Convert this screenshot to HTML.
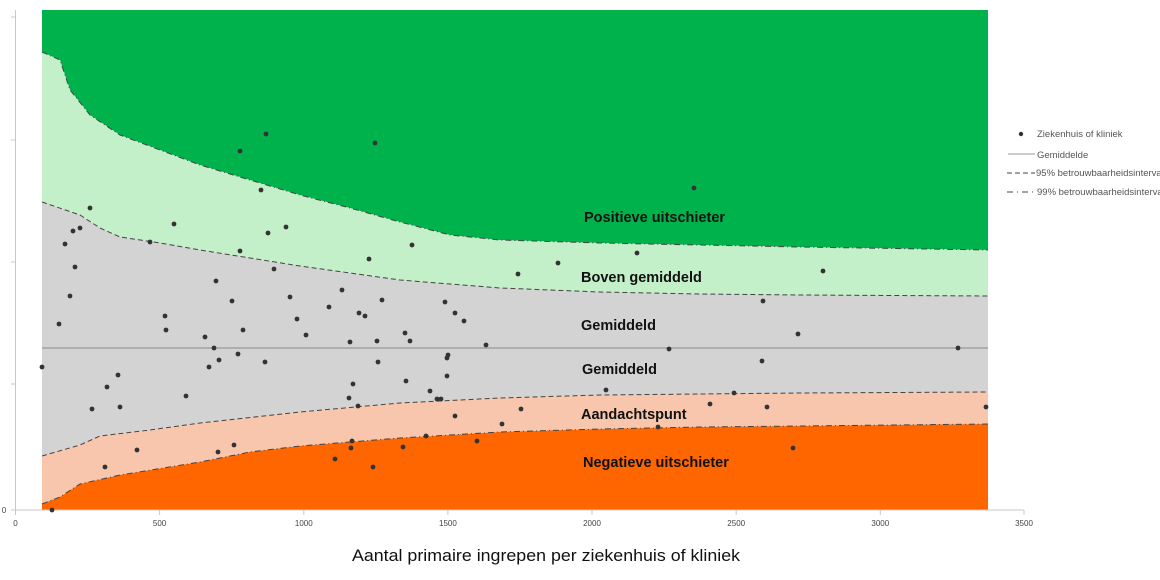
<!DOCTYPE html>
<html><head><meta charset="utf-8"><style>
html,body{margin:0;padding:0;background:#fff;}
svg{display:block;font-family:"Liberation Sans",sans-serif;}
</style></head><body>
<svg width="1160" height="580" viewBox="0 0 1160 580" xmlns="http://www.w3.org/2000/svg">
<!-- bands -->
<polygon fill="#00b24c" points="42,10 988,10 988,250 800,247 700,245 600,243 500,240 450,235 400,222 350,208 300,195 250,180 200,165 160,150 120,135 90,115 70,90 60,60 42,52"/>
<polygon fill="#c3f0c8" points="42,52 60,60 70,90 90,115 120,135 160,150 200,165 250,180 300,195 350,208 400,222 450,235 500,240 600,243 700,245 800,247 988,250 988,296 800,295 700,294 600,292 500,288 400,280 300,266 200,250 160,243 120,237 100,228 80,215 42,202"/>
<polygon fill="#d3d3d3" points="42,202 80,215 100,228 120,237 160,243 200,250 300,266 400,280 500,288 600,292 700,294 800,295 988,296 988,392 800,393 700,394 600,395 500,398 400,403 300,412 200,423 150,430 100,436 80,445 42,456"/>
<polygon fill="#f7c6ac" points="42,456 80,445 100,436 150,430 200,423 300,412 400,403 500,398 600,395 700,394 800,393 988,392 988,424 800,426 700,427 600,429 500,432 400,438 300,446 250,452 200,462 120,475 80,484 60,497 42,504"/>
<polygon fill="#ff6600" points="42,504 60,497 80,484 120,475 200,462 250,452 300,446 400,438 500,432 600,429 700,427 800,426 988,424 988,510 42,510"/>
<!-- boundary lines -->
<g fill="none" stroke="#444" stroke-width="1">
<polyline stroke-dasharray="6,3,1,3" points="42,52 60,60 70,90 90,115 120,135 160,150 200,165 250,180 300,195 350,208 400,222 450,235 500,240 600,243 700,245 800,247 988,250"/>
<polyline stroke-dasharray="5,3" points="42,202 80,215 100,228 120,237 160,243 200,250 300,266 400,280 500,288 600,292 700,294 800,295 988,296"/>
<polyline stroke-dasharray="5,3" points="42,456 80,445 100,436 150,430 200,423 300,412 400,403 500,398 600,395 700,394 800,393 988,392"/>
<polyline stroke-dasharray="6,3,1,3" points="42,504 60,497 80,484 120,475 200,462 250,452 300,446 400,438 500,432 600,429 700,427 800,426 988,424"/>
</g>
<line x1="42" y1="348" x2="988" y2="348" stroke="#999" stroke-width="1.2"/>
<!-- axes -->
<g stroke="#c8c8c8" stroke-width="1">
<line x1="15.5" y1="10" x2="15.5" y2="510"/>
<line x1="15.5" y1="510" x2="1024" y2="510"/>
<line x1="11" y1="17" x2="15.5" y2="17"/><line x1="11" y1="140" x2="15.5" y2="140"/><line x1="11" y1="262" x2="15.5" y2="262"/><line x1="11" y1="384" x2="15.5" y2="384"/><line x1="11" y1="510" x2="15.5" y2="510"/>
<line x1="15.5" y1="510" x2="15.5" y2="515"/><line x1="159.6" y1="510" x2="159.6" y2="515"/><line x1="303.8" y1="510" x2="303.8" y2="515"/><line x1="447.9" y1="510" x2="447.9" y2="515"/><line x1="592" y1="510" x2="592" y2="515"/><line x1="736.2" y1="510" x2="736.2" y2="515"/><line x1="880.3" y1="510" x2="880.3" y2="515"/><line x1="1024" y1="510" x2="1024" y2="515"/>
</g>
<g font-size="8" fill="#444" text-anchor="middle">
<text x="4" y="513">0</text>
<text x="15.5" y="526">0</text><text x="159.6" y="526">500</text><text x="303.8" y="526">1000</text><text x="447.9" y="526">1500</text><text x="592" y="526">2000</text><text x="736.2" y="526">2500</text><text x="880.3" y="526">3000</text><text x="1024" y="526">3500</text>
</g>
<!-- points -->
<g fill="#333">
<circle cx="42" cy="367" r="2.4"/><circle cx="59" cy="324" r="2.4"/><circle cx="65" cy="244" r="2.4"/><circle cx="70" cy="296" r="2.4"/><circle cx="73" cy="231" r="2.4"/><circle cx="75" cy="267" r="2.4"/><circle cx="80" cy="228" r="2.4"/><circle cx="90" cy="208" r="2.4"/><circle cx="92" cy="409" r="2.4"/><circle cx="105" cy="467" r="2.4"/><circle cx="107" cy="387" r="2.4"/><circle cx="118" cy="375" r="2.4"/><circle cx="120" cy="407" r="2.4"/><circle cx="137" cy="450" r="2.4"/><circle cx="150" cy="242" r="2.4"/><circle cx="165" cy="316" r="2.4"/><circle cx="166" cy="330" r="2.4"/><circle cx="174" cy="224" r="2.4"/><circle cx="186" cy="396" r="2.4"/><circle cx="205" cy="337" r="2.4"/><circle cx="209" cy="367" r="2.4"/><circle cx="214" cy="348" r="2.4"/><circle cx="216" cy="281" r="2.4"/><circle cx="218" cy="452" r="2.4"/><circle cx="219" cy="360" r="2.4"/><circle cx="232" cy="301" r="2.4"/><circle cx="234" cy="445" r="2.4"/><circle cx="238" cy="354" r="2.4"/><circle cx="240" cy="251" r="2.4"/><circle cx="240" cy="151" r="2.4"/><circle cx="243" cy="330" r="2.4"/><circle cx="261" cy="190" r="2.4"/><circle cx="265" cy="362" r="2.4"/><circle cx="266" cy="134" r="2.4"/><circle cx="268" cy="233" r="2.4"/><circle cx="274" cy="269" r="2.4"/><circle cx="286" cy="227" r="2.4"/><circle cx="290" cy="297" r="2.4"/><circle cx="297" cy="319" r="2.4"/><circle cx="306" cy="335" r="2.4"/><circle cx="329" cy="307" r="2.4"/><circle cx="335" cy="459" r="2.4"/><circle cx="342" cy="290" r="2.4"/><circle cx="349" cy="398" r="2.4"/><circle cx="350" cy="342" r="2.4"/><circle cx="351" cy="448" r="2.4"/><circle cx="352" cy="441" r="2.4"/><circle cx="353" cy="384" r="2.4"/><circle cx="358" cy="406" r="2.4"/><circle cx="359" cy="313" r="2.4"/><circle cx="365" cy="316" r="2.4"/><circle cx="369" cy="259" r="2.4"/><circle cx="373" cy="467" r="2.4"/><circle cx="375" cy="143" r="2.4"/><circle cx="377" cy="341" r="2.4"/><circle cx="378" cy="362" r="2.4"/><circle cx="382" cy="300" r="2.4"/><circle cx="403" cy="447" r="2.4"/><circle cx="405" cy="333" r="2.4"/><circle cx="406" cy="381" r="2.4"/><circle cx="410" cy="341" r="2.4"/><circle cx="412" cy="245" r="2.4"/><circle cx="426" cy="436" r="2.4"/><circle cx="430" cy="391" r="2.4"/><circle cx="437" cy="399" r="2.4"/><circle cx="441" cy="399" r="2.4"/><circle cx="445" cy="302" r="2.4"/><circle cx="447" cy="376" r="2.4"/><circle cx="447" cy="358" r="2.4"/><circle cx="448" cy="355" r="2.4"/><circle cx="455" cy="313" r="2.4"/><circle cx="455" cy="416" r="2.4"/><circle cx="464" cy="321" r="2.4"/><circle cx="477" cy="441" r="2.4"/><circle cx="486" cy="345" r="2.4"/><circle cx="502" cy="424" r="2.4"/><circle cx="518" cy="274" r="2.4"/><circle cx="521" cy="409" r="2.4"/><circle cx="558" cy="263" r="2.4"/><circle cx="606" cy="390" r="2.4"/><circle cx="637" cy="253" r="2.4"/><circle cx="658" cy="427" r="2.4"/><circle cx="669" cy="349" r="2.4"/><circle cx="694" cy="188" r="2.4"/><circle cx="710" cy="404" r="2.4"/><circle cx="734" cy="393" r="2.4"/><circle cx="763" cy="301" r="2.4"/><circle cx="762" cy="361" r="2.4"/><circle cx="767" cy="407" r="2.4"/><circle cx="793" cy="448" r="2.4"/><circle cx="798" cy="334" r="2.4"/><circle cx="823" cy="271" r="2.4"/><circle cx="958" cy="348" r="2.4"/><circle cx="986" cy="407" r="2.4"/><circle cx="52" cy="510" r="2.4"/>
</g>
<!-- band labels -->
<g font-size="14.5" font-weight="bold" fill="#111">
<text x="584" y="222">Positieve uitschieter</text>
<text x="581" y="282">Boven gemiddeld</text>
<text x="581" y="330">Gemiddeld</text>
<text x="582" y="374">Gemiddeld</text>
<text x="581" y="419">Aandachtspunt</text>
<text x="583" y="467">Negatieve uitschieter</text>
</g>
<!-- legend -->
<g font-size="9.5" fill="#555">
<circle cx="1021" cy="134" r="2.2" fill="#333"/>
<text x="1037" y="137">Ziekenhuis of kliniek</text>
<line x1="1008" y1="154" x2="1035" y2="154" stroke="#999"/>
<text x="1037" y="158">Gemiddelde</text>
<line x1="1007" y1="173" x2="1035" y2="173" stroke="#444" stroke-dasharray="5,3"/>
<text x="1036" y="176">95% betrouwbaarheidsinterval</text>
<line x1="1007" y1="192" x2="1035" y2="192" stroke="#444" stroke-dasharray="6,4,1,4"/>
<text x="1037" y="195">99% betrouwbaarheidsinterval</text>
</g>
<text x="546" y="561" font-size="16.5" fill="#111" text-anchor="middle" textLength="388" lengthAdjust="spacingAndGlyphs">Aantal primaire ingrepen per ziekenhuis of kliniek</text>
</svg>
</body></html>
